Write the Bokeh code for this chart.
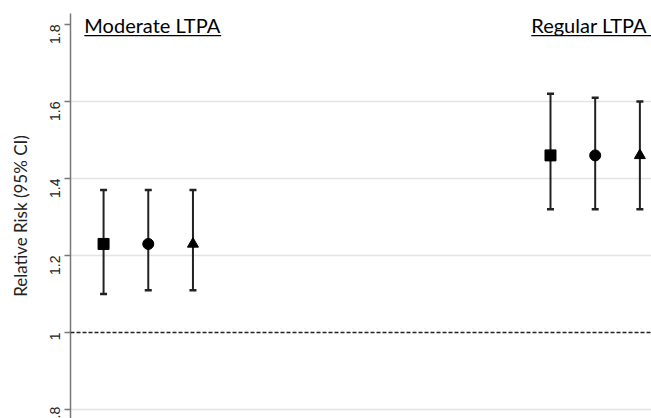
import math
from bokeh.plotting import figure
from bokeh.models import (ColumnDataSource, Whisker, TeeHead, FixedTicker, Span, Label)
from bokeh.embed import file_html
from bokeh.resources import INLINE

# ---- data ----
groups = ["Moderate LTPA", "Regular LTPA"]
group_start = [1, 11]
positions = [1, 2, 3, 11, 12, 13]
markers = ["square", "circle", "triangle", "square", "circle", "triangle"]
rr = [1.23, 1.23, 1.23, 1.46, 1.46, 1.46]
lower = [1.10, 1.11, 1.11, 1.32, 1.32, 1.32]
upper = [1.37, 1.37, 1.37, 1.62, 1.61, 1.60]
y_ticks = [0.8, 1.0, 1.2, 1.4, 1.6, 1.8]
y_tick_labels = [".8", "1", "1.2", "1.4", "1.6", "1.8"]

src = ColumnDataSource(dict(x=positions, y=rr, lower=lower, upper=upper, marker=markers))

p = figure(width=651, height=418, output_backend="svg", toolbar_location=None,
           x_range=(0.26, 13.26), y_range=(0.7766, 1.8286),
           x_axis_location=None, min_border_left=70, min_border_right=0,
           min_border_top=13, min_border_bottom=0)
p.outline_line_color = None
p.background_fill_color = "white"

# axis
yax = p.yaxis[0]
yax.ticker = FixedTicker(ticks=y_ticks)
yax.major_label_overrides = {t: l for t, l in zip(y_ticks, y_tick_labels)}
yax.major_label_orientation = math.pi / 2
yax.major_label_text_font = "Liberation Sans"
yax.major_label_text_font_size = "14px"
yax.major_label_text_color = "#222222"
yax.major_label_standoff = 9
yax.major_tick_out = 6
yax.major_tick_in = 0
yax.minor_tick_line_color = None
yax.major_tick_line_color = "#777777"
yax.major_tick_line_width = 1.5
yax.axis_line_color = "#777777"
yax.axis_line_width = 1.5
yax.axis_label = "Relative Risk (95% CI)"
yax.axis_label_text_font = "Lato"
yax.axis_label_text_font_style = "normal"
yax.axis_label_text_font_size = "17px"
yax.axis_label_text_color = "#222222"
yax.axis_label_standoff = 12

p.xgrid.visible = False
p.ygrid.ticker = FixedTicker(ticks=[0.8, 1.2, 1.4, 1.6])
p.ygrid.grid_line_color = "#e3e3e3"
p.ygrid.grid_line_width = 1.5

# reference line at RR = 1
p.add_layout(Span(location=1.0, dimension="width", line_color="#222222",
                  line_width=1.5, line_dash="4 2"))

# error bars
p.add_layout(Whisker(source=src, base="x", lower="lower", upper="upper",
                     line_color="#222222", line_width=2,
                     upper_head=TeeHead(size=7, line_width=2.5, line_color="#222222"),
                     lower_head=TeeHead(size=7, line_width=2.5, line_color="#222222")))

p.scatter(x="x", y="y", marker="marker", source=src, size=11,
          fill_color="black", line_color="black")

# group labels with underline
label_w = [3.06, 2.75]
for g, s, w in zip(groups, group_start, label_w):
    x0 = s - 0.43
    p.add_layout(Label(x=x0, y=1.80, text=g, text_font="Lato",
                       text_font_size="20px", text_color="black",
                       text_baseline="alphabetic"))
    p.segment(x0=[x0], x1=[x0 + w], y0=[1.771], y1=[1.771],
              line_color="black", line_width=1.3)

open("out.html", "w").write(file_html(p, INLINE))
